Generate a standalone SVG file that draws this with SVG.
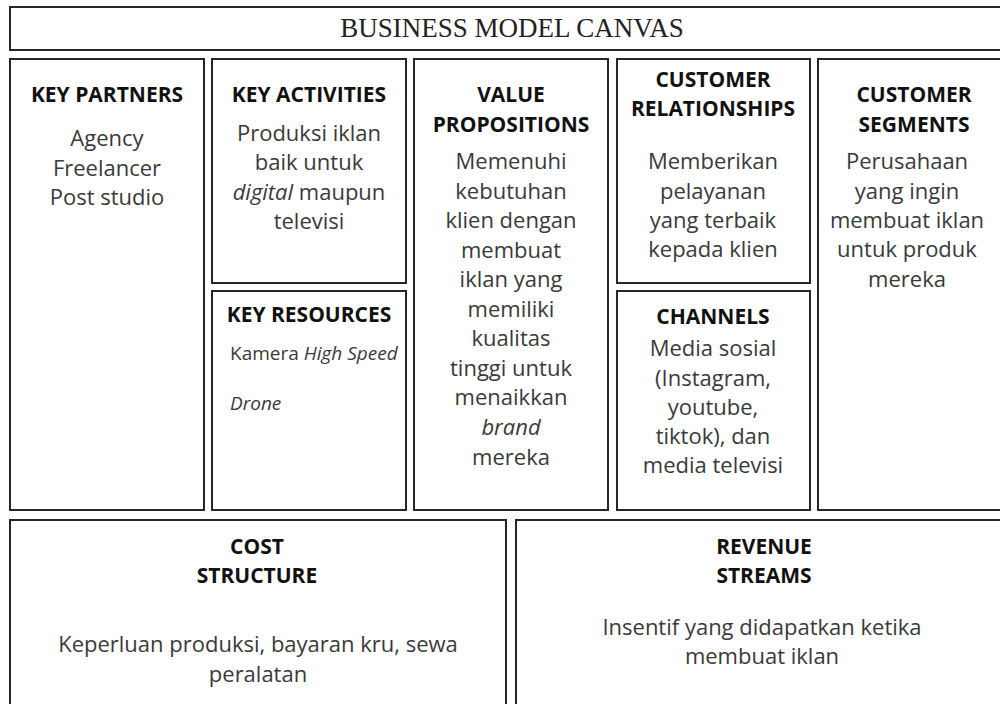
<svg xmlns="http://www.w3.org/2000/svg" width="1000" height="704" viewBox="0 0 1000 704">
<style>
.box{fill:#fff;stroke:#262626;stroke-width:2}
.h{font-family:"Open Sans","Noto Sans",sans-serif;font-weight:700;font-size:21px;fill:#111;text-anchor:middle}
.b{font-family:"Open Sans","Noto Sans",sans-serif;font-size:22px;fill:#3a3a3a;text-anchor:middle}
.s{font-family:"Open Sans","Noto Sans",sans-serif;font-size:19px;fill:#3a3a3a}
.i{font-style:italic}
.t{font-family:"Liberation Serif","Times New Roman",serif;font-size:27px;fill:#222;text-anchor:middle}
</style>
<rect width="1000" height="704" fill="#fff"/>
<g id="title">
<rect class="box" x="10" y="7" width="1000" height="43"/>
<text class="t" x="512" y="37">BUSINESS MODEL CANVAS</text>
</g>
<g id="key-partners">
<rect class="box" x="10" y="59" width="194" height="451"/>
<text class="h" x="107" y="102">KEY PARTNERS</text>
<text class="b" x="107" y="146">Agency</text>
<text class="b" x="107" y="176">Freelancer</text>
<text class="b" x="107" y="205">Post studio</text>
</g>
<g id="key-activities">
<rect class="box" x="212" y="59" width="194" height="224"/>
<text class="h" x="309" y="102">KEY ACTIVITIES</text>
<text class="b" x="309" y="141">Produksi iklan</text>
<text class="b" x="309" y="170">baik untuk</text>
<text class="b" x="309" y="200"><tspan class="i">digital</tspan> maupun</text>
<text class="b" x="309" y="229">televisi</text>
</g>
<g id="key-resources">
<rect class="box" x="212" y="291" width="194" height="219"/>
<text class="h" x="309" y="322">KEY RESOURCES</text>
<text class="s" x="230" y="360">Kamera <tspan class="i">High Speed</tspan></text>
<text class="s i" x="230" y="410">Drone</text>
</g>
<g id="value-propositions">
<rect class="box" x="414" y="59" width="194" height="451"/>
<text class="h" x="511" y="102">VALUE</text>
<text class="h" x="511" y="132">PROPOSITIONS</text>
<text class="b" x="511" y="169">Memenuhi</text>
<text class="b" x="511" y="199">kebutuhan</text>
<text class="b" x="511" y="228">klien dengan</text>
<text class="b" x="511" y="258">membuat</text>
<text class="b" x="511" y="287">iklan yang</text>
<text class="b" x="511" y="317">memiliki</text>
<text class="b" x="511" y="346">kualitas</text>
<text class="b" x="511" y="376">tinggi untuk</text>
<text class="b" x="511" y="405">menaikkan</text>
<text class="b i" x="511" y="435">brand</text>
<text class="b" x="511" y="465">mereka</text>
</g>
<g id="customer-relationships">
<rect class="box" x="617" y="59" width="193" height="224"/>
<text class="h" x="713" y="87">CUSTOMER</text>
<text class="h" x="713" y="116">RELATIONSHIPS</text>
<text class="b" x="713" y="169">Memberikan</text>
<text class="b" x="713" y="199">pelayanan</text>
<text class="b" x="713" y="228">yang terbaik</text>
<text class="b" x="713" y="257">kepada klien</text>
</g>
<g id="channels">
<rect class="box" x="617" y="291" width="193" height="219"/>
<text class="h" x="713" y="324">CHANNELS</text>
<text class="b" x="713" y="356">Media sosial</text>
<text class="b" x="713" y="386">(Instagram,</text>
<text class="b" x="713" y="415">youtube,</text>
<text class="b" x="713" y="444">tiktok), dan</text>
<text class="b" x="713" y="473">media televisi</text>
</g>
<g id="customer-segments">
<rect class="box" x="818" y="59" width="200" height="451"/>
<text class="h" x="914" y="102">CUSTOMER</text>
<text class="h" x="914" y="132">SEGMENTS</text>
<text class="b" x="907" y="169">Perusahaan</text>
<text class="b" x="907" y="199">yang ingin</text>
<text class="b" x="907" y="228">membuat iklan</text>
<text class="b" x="907" y="257">untuk produk</text>
<text class="b" x="907" y="287">mereka</text>
</g>
<g id="cost-structure">
<rect class="box" x="10" y="520" width="496" height="200"/>
<text class="h" x="257" y="554">COST</text>
<text class="h" x="257" y="583">STRUCTURE</text>
<text class="b" x="258" y="652">Keperluan produksi, bayaran kru, sewa</text>
<text class="b" x="258" y="682">peralatan</text>
</g>
<g id="revenue-streams">
<rect class="box" x="516" y="520" width="500" height="200"/>
<text class="h" x="764" y="554">REVENUE</text>
<text class="h" x="764" y="583">STREAMS</text>
<text class="b" x="762" y="635">Insentif yang didapatkan ketika</text>
<text class="b" x="762" y="664">membuat iklan</text>
</g>
<g id="connectors"></g>
</svg>
